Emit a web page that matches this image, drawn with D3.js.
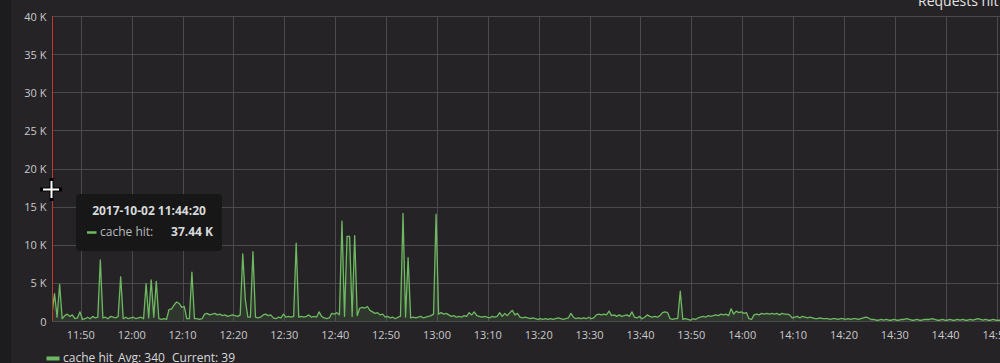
<!DOCTYPE html>
<html>
<head>
<meta charset="utf-8">
<script src="https://cdn.jsdelivr.net/npm/d3@7"></script>
<style>
  html, body { margin: 0; padding: 0; background: #252326; overflow: hidden; }
  svg { display: block; font-family: "Open Sans", sans-serif; }
  .tick-label { fill: #c9c9cb; font-size: 11px; }
  .grid { stroke: #4a494c; stroke-width: 1; shape-rendering: crispEdges; }
</style>
</head>
<body>
<div id="svg-div"></div>
<script>
// series: cache hit, one value every 30 s (thousands of requests)
var startTime = new Date(2017, 9, 2, 11, 44, 20);
var stepSeconds = 30;
var cacheHit = [
  1.0,3.6,0.5,4.8,0.3,0.7,0.9,0.6,0.8,0.3,
  0.4,1.2,0.2,0.3,0.5,0.3,0.6,0.4,0.5,8.0,
  0.4,0.5,0.3,0.6,0.5,0.4,0.6,5.8,0.3,0.5,
  0.3,0.4,0.5,0.3,0.4,0.5,0.3,4.9,0.4,5.4,
  0.5,5.2,0.3,0.2,0.3,0.2,1.5,1.6,2.1,2.5,
  2.3,1.8,1.9,0.3,0.3,6.4,0.3,0.3,0.2,0.3,
  0.9,1.0,0.8,0.9,1.0,0.8,0.9,0.7,0.8,0.6,
  0.7,0.8,0.7,0.6,0.8,8.8,2.8,0.5,0.5,9.1,
  0.5,0.4,0.5,0.8,0.9,0.7,0.8,0.4,0.3,0.5,
  0.4,0.9,0.5,0.6,0.5,0.6,10.2,0.5,0.6,0.5,
  0.6,0.8,0.5,0.6,0.5,1.2,0.6,0.4,0.3,0.4,
  1.0,0.9,1.1,0.8,13.1,0.6,11.1,11.1,0.6,11.2,
  0.7,1.7,1.8,1.7,1.9,1.4,1.2,1.0,1.1,0.8,
  0.9,0.5,0.6,0.4,0.5,0.3,0.5,0.6,14.1,0.5,
  8.3,0.4,0.5,0.4,0.5,0.6,0.4,0.5,0.6,0.7,
  0.9,14.0,0.9,1.1,0.9,1.0,0.8,0.6,0.7,0.5,
  0.6,0.5,0.7,0.6,1.1,0.8,1.2,0.7,0.6,0.5,
  0.6,0.5,0.4,0.6,0.5,0.6,1.1,0.6,1.0,0.7,
  1.1,1.4,0.8,1.0,0.5,0.4,0.5,0.4,0.3,0.4,
  0.3,0.2,0.3,0.2,0.3,0.2,0.3,0.2,0.3,0.4,
  0.3,0.2,0.3,0.4,1.0,0.5,0.3,0.4,0.3,0.4,
  0.3,0.5,0.3,0.4,0.8,0.9,0.8,0.9,0.8,1.3,
  0.7,0.8,0.6,0.8,0.6,0.7,0.8,0.6,1.2,0.5,
  0.4,0.6,0.3,0.5,0.8,0.6,0.5,0.6,0.5,0.7,
  1.1,1.2,1.1,0.3,0.2,0.3,0.3,3.9,0.2,0.3,
  0.2,0.1,0.3,0.2,0.4,0.5,0.6,0.5,0.7,0.6,
  0.7,0.8,0.7,0.9,0.8,0.9,0.7,1.6,0.9,1.3,
  1.1,1.2,1.0,1.1,0.3,0.2,0.8,0.9,0.8,1.0,
  0.9,1.0,0.9,1.0,0.9,1.0,0.8,1.0,0.9,0.9,
  0.8,0.4,0.5,0.6,0.4,0.6,0.5,0.4,0.5,0.4,
  0.3,0.3,0.4,0.3,0.3,0.3,0.2,0.3,0.3,0.2,
  0.3,0.3,0.2,0.3,0.2,0.3,0.3,0.2,0.3,0.4,
  0.5,0.4,0.2,0.2,0.1,0.1,0.2,0.1,0.2,0.1,
  0.1,0.2,0.1,0.1,0.2,0.2,0.3,0.2,0.1,0.1,
  0.2,0.1,0.1,0.2,0.2,0.2,0.3,0.2,0.1,0.1,
  0.2,0.1,0.1,0.2,0.1,0.1,0.2,0.1,0.2,0.1,
  0.1,0.2,0.1,0.2,0.3,0.2,0.1,0.2,0.1,0.1,
  0.2,0.1,0.1,0.1
];
var yTicks = [0, 5000, 10000, 15000, 20000, 25000, 30000, 35000, 40000];
var xDomain = [new Date(2017, 9, 2, 11, 44, 20), new Date(2017, 9, 2, 14, 50, 41)];
var panelTitle = "Requests hit ratio";
var seriesName = "cache hit";
var legendAvg = "Avg: 340";
var legendCurrent = "Current: 39";
var hoverTime = new Date(2017, 9, 2, 11, 44, 20);
var hoverLabel = "2017-10-02 11:44:20";
var hoverValue = "37.44 K";

window.onload = () => {
    var width = 1000, height = 363;
    var plot = { left: 52, right: 1000, top: 16, bottom: 321 };
    var green = "#6fb862";

    var data = cacheHit.map((v, i) => {
        return { t: new Date(startTime.getTime() + i * stepSeconds * 1000), v: v * 1000 };
    });

    var x = d3.scaleTime().domain(xDomain).range([plot.left, plot.right]);
    var y = d3.scaleLinear().domain([0, 40000]).range([plot.bottom, plot.top]);

    var svg = d3.select("#svg-div").append("svg")
        .attr("width", width)
        .attr("height", height);

    svg.append("rect").attr("width", width).attr("height", height).attr("fill", "#252326");
    svg.append("rect").attr("width", 11).attr("height", height).attr("fill", "#1c1c1e");

    // title, cut by the top edge
    svg.append("text")
        .attr("x", 918).attr("y", 6)
        .attr("fill", "#e4e4e4")
        .style("font-size", "14px")
        .style("font-weight", 500)
        .text(panelTitle);

    // grid
    var xTicks = x.ticks(d3.timeMinute.every(10));
    svg.append("g").selectAll("line")
        .data(yTicks).enter().append("line")
        .attr("class", "grid")
        .attr("x1", plot.left).attr("x2", plot.right)
        .attr("y1", d => Math.round(y(d)) + 0.5).attr("y2", d => Math.round(y(d)) + 0.5);
    svg.append("g").selectAll("line")
        .data(xTicks).enter().append("line")
        .attr("class", "grid")
        .attr("x1", d => Math.round(x(d)) + 0.5).attr("x2", d => Math.round(x(d)) + 0.5)
        .attr("y1", plot.top).attr("y2", plot.bottom);

    // axis labels
    svg.append("g").selectAll("text")
        .data(yTicks).enter().append("text")
        .attr("class", "tick-label")
        .attr("x", 46.5)
        .attr("y", d => y(d) + 4.5)
        .attr("text-anchor", "end")
        .text(d => d === 0 ? "0" : (d / 1000) + " K");

    var fmt = d3.timeFormat("%H:%M");
    svg.append("g").selectAll("text")
        .data(xTicks).enter().append("text")
        .attr("class", "tick-label")
        .attr("x", d => x(d))
        .attr("y", 339)
        .attr("text-anchor", "middle")
        .text(d => fmt(d));

    // series
    svg.append("clipPath").attr("id", "plot-clip")
        .append("rect")
        .attr("x", plot.left).attr("y", plot.top - 2)
        .attr("width", plot.right - plot.left).attr("height", plot.bottom - plot.top + 2);

    var area = d3.area().x(d => x(d.t)).y0(y(0)).y1(d => y(d.v));
    var line = d3.line().x(d => x(d.t)).y(d => y(d.v));

    var series = svg.append("g").attr("clip-path", "url(#plot-clip)");
    series.append("path").datum(data)
        .attr("d", area)
        .attr("fill", green)
        .attr("fill-opacity", 0.13);
    series.append("path").datum(data)
        .attr("d", line)
        .attr("fill", "none")
        .attr("stroke", green)
        .attr("stroke-width", 1.3)
        .attr("stroke-linejoin", "round");

    // hover line
    svg.append("line")
        .attr("x1", Math.round(x(hoverTime)) + 0.5).attr("x2", Math.round(x(hoverTime)) + 0.5)
        .attr("y1", plot.top).attr("y2", plot.bottom)
        .attr("stroke", "#c0392b").attr("stroke-width", 1);

    // tooltip
    var tip = svg.append("g").attr("transform", "translate(76,194)");
    tip.append("rect")
        .attr("width", 146).attr("height", 57).attr("rx", 4)
        .attr("fill", "#171717").attr("fill-opacity", 0.96);
    tip.append("text")
        .attr("x", 73).attr("y", 20.5)
        .attr("text-anchor", "middle")
        .attr("fill", "#d8d9da")
        .style("font-size", "12px").style("font-weight", "bold")
        .text(hoverLabel);
    tip.append("line")
        .attr("x1", 11).attr("x2", 20.5).attr("y1", 38.5).attr("y2", 38.5)
        .attr("stroke", green).attr("stroke-width", 2.5);
    tip.append("text")
        .attr("x", 24).attr("y", 42)
        .attr("fill", "#b9b9bb")
        .style("font-size", "12px")
        .text(seriesName + ":");
    tip.append("text")
        .attr("x", 137).attr("y", 42)
        .attr("text-anchor", "end")
        .attr("fill", "#d8d9da")
        .style("font-size", "12px").style("font-weight", "bold")
        .text(hoverValue);

    // mouse cursor
    svg.append("path").attr("d", "M42,189.5H60M51.5,180V199").attr("stroke", "#000").attr("stroke-width", 4).attr("stroke-linecap", "square");
    svg.append("path").attr("d", "M43,189.5H59M51.5,181V198").attr("stroke", "#fff").attr("stroke-width", 2);

    // legend
    svg.append("line")
        .attr("x1", 46.5).attr("x2", 59.5).attr("y1", 358.5).attr("y2", 358.5)
        .attr("stroke", green).attr("stroke-width", 4);
    var legend = [
        { text: seriesName, x: 63 },
        { text: legendAvg, x: 118 },
        { text: legendCurrent, x: 172 }
    ];
    svg.append("g").selectAll("text")
        .data(legend).enter().append("text")
        .attr("x", d => d.x).attr("y", 362)
        .attr("fill", "#d8d9da")
        .style("font-size", "12px")
        .text(d => d.text);
};
</script>
</body>
</html>
